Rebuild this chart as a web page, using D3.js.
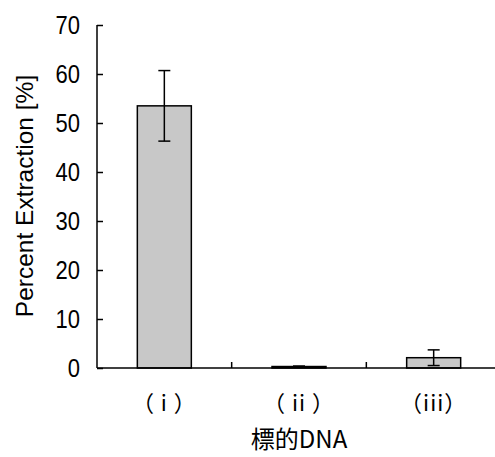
<!DOCTYPE html>
<html>
<head>
<meta charset="utf-8">
<script src="https://cdn.jsdelivr.net/npm/d3@7"></script>
<style>
  body { margin: 0; background: #fff; }
  svg { display: block; }
</style>
</head>
<body>
<div class="graph"></div>
<script>
const width = 495;
const height = 457;
const margin = { left: 97, top: 25, right: -6, bottom: 89 };

// data
const categories = ["（ i ）", "（ ii ）", "（iii）"];
const values = [53.5, 0.3, 2.1];
const errors = [7.2, 0.1, 1.6];
const yTicks = [0, 10, 20, 30, 40, 50, 60, 70];

const svg = d3.select(".graph").append("svg")
  .attr("width", width)
  .attr("height", height);

const x = d3.scaleBand()
  .domain(categories)
  .range([margin.left, width - margin.right])
  .paddingInner(0)
  .paddingOuter(0);

const y = d3.scaleLinear()
  .domain([0, 70])
  .range([height - margin.bottom, margin.top]);

const barW = 54;

// bars
svg.append("g")
  .selectAll("rect")
  .data(values)
  .join("rect")
  .attr("x", (d, i) => x(categories[i]) + x.bandwidth() / 2 - barW / 2)
  .attr("y", d => y(d))
  .attr("width", barW)
  .attr("height", d => y(0) - y(d))
  .attr("fill", "#c8c8c8")
  .attr("stroke", "#000")
  .attr("stroke-width", 1.5);

// error bars
const err = svg.append("g")
  .attr("stroke", "#000")
  .attr("stroke-width", 1.5);
values.forEach((v, i) => {
  const cx = x(categories[i]) + x.bandwidth() / 2;
  const lo = y(v - errors[i]);
  const hi = y(v + errors[i]);
  err.append("line").attr("x1", cx).attr("x2", cx).attr("y1", lo).attr("y2", hi);
  err.append("line").attr("x1", cx - 6).attr("x2", cx + 6).attr("y1", lo).attr("y2", lo);
  err.append("line").attr("x1", cx - 6).attr("x2", cx + 6).attr("y1", hi).attr("y2", hi);
});

// y axis, ticks pointing inward
const yAxis = svg.append("g")
  .attr("transform", "translate(" + margin.left + ",0)")
  .call(d3.axisRight(y).tickValues(yTicks).tickSize(6).tickFormat(""));
yAxis.select(".domain").attr("d", "M0," + y(70) + "V" + y(0)).attr("stroke-width", 1.5);
yAxis.selectAll("line").attr("stroke-width", 1.5);

// tick labels: tall, slightly narrow digits
svg.append("g")
  .selectAll("text")
  .data(yTicks)
  .join("text")
  .attr("transform", d => "translate(80," + (y(d) + 8.5) + ") scale(1,1.14)")
  .attr("text-anchor", "end")
  .attr("font-family", "'Liberation Sans', Arial, sans-serif")
  .attr("font-size", 22)
  .text(d => d);

// x axis line with category separators pointing up
const base = y(0);
svg.append("line")
  .attr("x1", margin.left).attr("x2", width)
  .attr("y1", base).attr("y2", base)
  .attr("stroke", "#000").attr("stroke-width", 1.5);
svg.append("g")
  .selectAll("line")
  .data(categories.slice(1))
  .join("line")
  .attr("x1", d => x(d)).attr("x2", d => x(d))
  .attr("y1", base).attr("y2", base - 6)
  .attr("stroke", "#000").attr("stroke-width", 1.5);

svg.append("g")
  .selectAll("text")
  .data(categories)
  .join("text")
  .attr("x", d => x(d) + x.bandwidth() / 2)
  .attr("y", 411)
  .attr("text-anchor", "middle")
  .attr("font-family", "'Noto Sans CJK JP', sans-serif")
  .attr("font-size", 22)
  .attr("letter-spacing", 1)
  .text(d => d);

// axis titles
svg.append("text")
  .attr("transform", "translate(33,196) rotate(-90)")
  .attr("text-anchor", "middle")
  .attr("font-family", "'Liberation Sans', Arial, sans-serif")
  .attr("font-size", 24.5)
  .text("Percent Extraction [%]");

svg.append("text")
  .attr("x", 299)
  .attr("y", 448)
  .attr("text-anchor", "middle")
  .attr("font-family", "'Noto Sans CJK JP', sans-serif")
  .attr("font-size", 24)
  .text("標的DNA");
</script>
</body>
</html>
